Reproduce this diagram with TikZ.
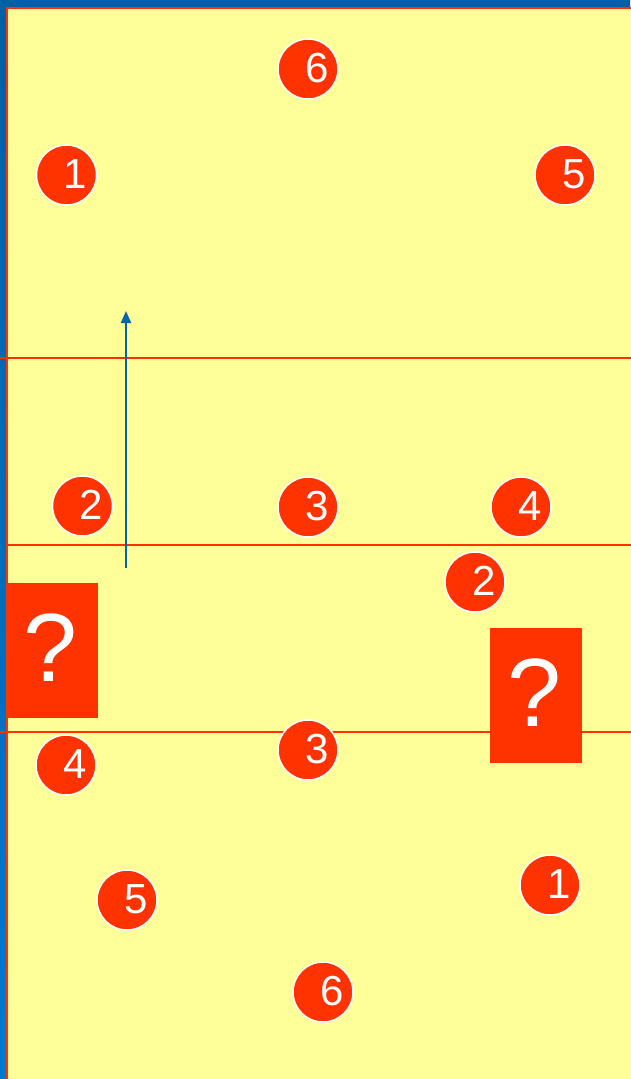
\documentclass[tikz,border=0pt]{standalone}
\usepackage{fontspec}
\setmainfont{Liberation Sans}
\usetikzlibrary{arrows.meta}
\definecolor{bgyel}{HTML}{FFFF99}
\definecolor{rd}{HTML}{FF3300}
\definecolor{blA}{HTML}{005FA8}
\definecolor{blB}{HTML}{0078D2}
\definecolor{arr}{HTML}{0066B3}
\begin{document}
\begin{tikzpicture}[x=1pt,y=-1pt,
  player/.style={circle,fill=rd,draw=white,line width=1.5pt,minimum size=60pt,inner sep=0pt},
  num/.style={text=white,font=\fontsize{42}{42}\selectfont,inner sep=0pt},
  qbox/.style={fill=rd,minimum width=92pt,minimum height=135pt,inner sep=0pt},
  qmark/.style={text=white,font=\fontsize{97}{97}\selectfont,inner sep=0pt},
  court/.style={draw=rd,line width=1.6pt}]
\useasboundingbox (0,0) rectangle (630,1079);
\shade[top color=blA,bottom color=blB] (0,0) rectangle (630,1079);
\fill[bgyel] (7,8) rectangle (632,1081);
\draw[rd,line width=2pt] (7,1081) -- (7,8) -- (632,8);
% court lines
\coordinate (l1a) at (0,358); \coordinate (l1b) at (632,358);
\coordinate (l2a) at (7,545); \coordinate (l2b) at (632,545);
\coordinate (l3a) at (0,732); \coordinate (l3b) at (632,732);
\draw[court] (l1a) -- (l1b);
\draw[court] (l2a) -- (l2b);
\draw[court] (l3a) -- (l3b);
% arrow
\coordinate (as) at (126,568); \coordinate (ae) at (126,311);
\draw[arr,line width=2pt,-{Triangle[length=12pt,width=10pt]}] (as) -- (ae);
% question boxes
\node[qbox] (qL) at (52,650) {};
\node[qmark] (qLt) at (50,648) {?};
\node[qbox] (qR) at (536,695) {};
\node[qmark] (qRt) at (534,693) {?};
% players
\foreach \n/\x/\y/\t in {p6a/308/69/6, p1a/66.5/175/1, p5a/565/175/5,
  p2a/82.5/506/2, p3a/308/507/3, p4a/521/507/4, p2b/475/582/2,
  p4b/66/765/4, p3b/308/750/3, p5b/127/900/5, p1b/550/885/1, p6b/323/992/6}{
  \node[player] (\n) at (\x,\y) {};
  \node[num] (\n t) at ([xshift=9pt,yshift=1pt]\n.center) {\t};
}
\end{tikzpicture}
\end{document}
